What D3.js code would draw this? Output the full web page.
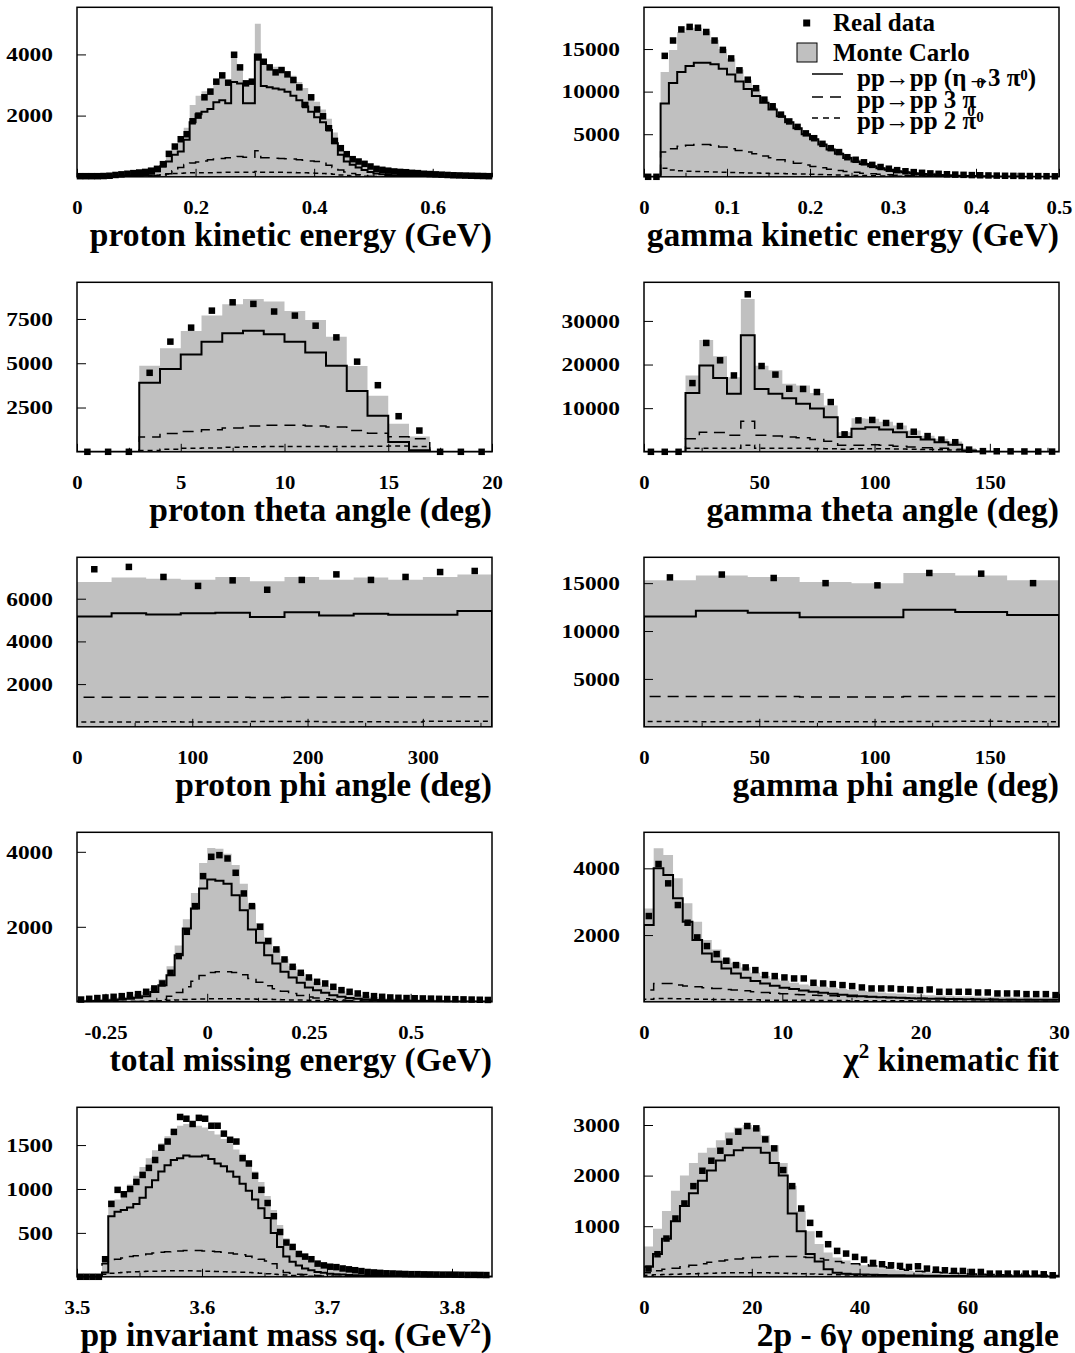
<!DOCTYPE html>
<html><head><meta charset="utf-8">
<script src="https://cdn.jsdelivr.net/npm/d3@7"></script>
<style>
html,body{margin:0;padding:0;background:#fff;}
svg text{font-family:"Liberation Serif","Times New Roman",serif;font-weight:bold;fill:#000;}
.tick-label{font-size:18px;}
.title{font-size:33.5px;}
.leg{font-size:25px;}
.small0{font-size:15px;}
</style></head><body>
<svg id="chart" width="1075" height="1353"></svg>
<script>
// ---------------- DATA ----------------
// proton kinetic energy (bins of 0.01 GeV from 0)
const pKE_data=[20,20,20,20,25,35,60,80,100,120,140,160,200,260,413,750,989,1228,1391,1815,2000,2598,2783,3109,3315,3076,3989,3576,3054,3109,3900,3761,3576,3413,3489,3348,3163,2924,2348,2598,2200,1978,1587,1174,935,739,576,500,424,337,260,228,200,175,160,150,130,120,100,90,80,70,60,50,45,40,35,30,25,20];
const pKE_mc=[20,20,20,25,30,40,55,70,90,110,140,180,220,290,420,650,950,1150,1600,2350,2650,2800,2900,3150,3250,3100,4000,3650,3150,3150,5000,3700,3650,3600,3550,3450,3300,3100,2900,2700,2450,2200,1900,1450,1000,750,600,480,380,300,240,190,150,120,100,80,70,60,50,45,40,35,30,30,25,25,20,20,20,20];
const pKE_eta=[0,0,5,5,10,10,15,20,25,30,40,60,100,180,337,500,717,826,1207,1783,2043,2130,2217,2435,2500,2400,3100,3050,2400,2400,4000,2970,2930,2890,2850,2780,2650,2500,2300,2130,1950,1783,1530,1100,717,500,391,300,220,160,110,80,60,40,30,25,20,15,10,10,5,5,5,0,0,0,0,0,0,0];
const pKE_3pi=[0,0,0,0,0,5,5,10,10,15,20,25,30,40,50,100,200,300,400,450,480,520,560,580,600,620,650,660,640,640,850,620,620,610,600,590,580,560,540,520,500,440,380,300,220,160,110,70,40,20,10,5,5,0,0,0,0,0,0,0,0,0,0,0,0,0,0,0,0,0];
const pKE_2pi=[0,0,0,0,0,0,0,0,5,10,20,30,40,50,70,90,110,120,125,130,130,135,135,140,140,145,145,150,150,150,170,150,150,145,145,140,140,135,130,125,120,110,100,80,60,45,30,20,15,10,5,5,0,0,0,0,0,0,0,0,0,0,0,0,0,0,0,0,0,0];
const pKE_xticks=[0,0.2,0.4,0.6], pKE_yticks=[2000,4000];

// gamma kinetic energy (bins of 0.01 GeV from 0)
const gKE_data=[0,0,14200,16000,17300,17600,17500,17000,16000,14900,13900,12500,11400,10400,9060,8280,7300,6500,5860,5100,4530,3870,3360,2900,2300,2000,1700,1400,1150,950,780,650,550,470,400,350,300,260,230,200,180,160,140,120,110,100,90,80,70,60];
const gKE_mc=[0,0,12300,14900,17000,17500,17500,17100,16100,15000,13900,12600,11400,10300,9100,8200,7300,6500,5800,5100,4500,3900,3400,2900,2450,2050,1700,1400,1150,950,780,640,520,430,360,300,250,210,180,150,130,115,100,90,80,70,60,55,50,45];
const gKE_eta=[0,0,8600,11000,12300,13000,13400,13400,13200,12700,12000,11200,10300,9500,8700,7900,7100,6400,5700,5000,4400,3800,3200,2700,2200,1800,1500,1250,1000,820,660,530,420,340,270,210,170,130,100,80,60,50,40,30,25,20,15,10,10,5];
const gKE_3pi=[0,0,2900,3300,3600,3700,3800,3800,3700,3500,3300,3100,2900,2700,2450,2250,2000,1800,1600,1400,1200,1050,900,750,620,520,430,350,290,230,180,140,110,90,70,55,45,35,30,25,20,15,15,10,10,10,5,5,5,5];
const gKE_2pi=[0,0,1000,800,700,650,620,600,570,540,500,480,460,440,420,400,380,360,340,320,300,270,240,210,180,160,140,120,100,80,70,60,50,40,30,25,20,15,10,10,5,5,5,5,0,0,0,0,0,0];
const gKE_xticks=[0,0.1,0.2,0.3,0.4,0.5], gKE_yticks=[5000,10000,15000];

// proton theta (bins of 1 deg)
const pTh_data=[0,0,0,4460,6220,7010,7970,8440,8350,7920,7690,7120,6460,5090,3760,2010,1200,0,0,0];
const pTh_mc=[0,0,0,4860,5840,6820,7690,8330,8630,8480,7950,7440,6500,4840,3160,1590,860,0,0,0];
const pTh_eta=[0,0,0,3900,4670,5500,6220,6690,6840,6630,6220,5610,4860,3430,2030,560,85,0,0,0];
const pTh_3pi=[0,0,0,840,1030,1150,1250,1350,1450,1500,1500,1450,1400,1200,1050,850,730,0,0,0];
const pTh_2pi=[0,0,0,80,150,200,220,250,280,300,300,300,300,300,320,330,300,0,0,0];
const pTh_xticks=[0,5,10,15,20], pTh_yticks=[2500,5000,7500];

// gamma theta (bins of 6 deg)
const gTh_data=[0,0,0,15750,24950,20970,17500,36100,19660,17700,14450,14400,13700,11400,4000,7200,7300,6600,5900,4600,3600,2800,2200,500,150,120,100,80,60,50];
const gTh_mc=[0,0,0,17500,25600,21900,17100,35000,19700,18700,15600,15200,13500,10600,4500,7700,7600,6900,6000,4900,3700,3000,2350,800,150,100,80,60,50,40];
const gTh_eta=[0,0,0,13500,19800,16900,13300,26700,14400,13300,12300,11000,9900,7900,3400,5300,5600,5100,4500,3400,2800,2200,1600,300,50,20,10,5,0,0];
const gTh_3pi=[0,0,0,3000,4500,4400,3800,7000,3800,3600,3400,3200,2800,2400,1500,1500,1600,1500,1300,1100,900,800,600,200,50,20,10,0,0,0];
const gTh_2pi=[0,0,0,800,800,800,800,1500,800,800,800,800,750,700,600,700,700,700,650,600,500,450,400,150,50,20,0,0,0,0];
const gTh_xticks=[0,50,100,150], gTh_yticks=[10000,20000,30000];

// proton phi (bins of 30 deg)
const pPhi_data=[7380,7490,7020,6600,6860,6420,6880,7140,6880,7020,7250,7300];
const pPhi_mc=[6780,6990,6940,6890,7020,6820,7020,6890,6990,6890,7020,7140];
const pPhi_eta=[5170,5320,5260,5320,5340,5140,5370,5210,5290,5250,5250,5420];
const pPhi_3pi=[1380,1380,1390,1380,1380,1370,1390,1380,1380,1390,1400,1410];
const pPhi_2pi=[220,230,240,230,220,250,250,230,240,220,260,260];
const pPhi_xticks=[0,100,200,300], pPhi_yticks=[2000,4000,6000];

// gamma phi (bins of 22.5 deg)
const gPhi_data=[15600,15900,15540,15000,14770,16060,15990,15000];
const gPhi_mc=[15300,15800,15640,15120,15000,16060,15800,15300];
const gPhi_eta=[11530,12130,11900,11430,11430,12230,11990,11670];
const gPhi_3pi=[3170,3170,3170,3100,3100,3170,3170,3170];
const gPhi_2pi=[560,540,560,540,520,560,580,540];
const gPhi_xticks=[0,50,100,150], gPhi_yticks=[5000,10000,15000];

// total missing energy (bins of 0.02 GeV from -0.32)
const missE_data=[60,80,100,115,133,151,178,204,267,356,489,773,1218,1867,2551,3351,3867,3911,3822,3440,2889,2551,2000,1618,1396,1129,933,773,649,533,489,400,311,267,222,178,151,133,116,107,100,95,90,85,80,75,70,65,60,55,50];
const missE_mc=[50,60,70,90,110,130,160,200,260,380,600,950,1500,2200,2900,3700,4100,4080,3950,3650,3150,2600,2100,1720,1420,1150,950,780,640,520,420,340,280,230,190,160,130,110,95,85,75,70,65,60,55,50,45,40,40,35,30];
const missE_eta=[10,15,20,30,40,60,80,110,150,260,444,711,1244,1956,2489,3022,3262,3230,3150,2844,2444,1929,1573,1244,1022,800,649,507,382,311,240,178,133,100,80,60,50,40,35,30,25,20,20,15,15,10,10,10,5,5,5];
const missE_3pi=[0,0,0,0,0,5,5,10,10,20,60,150,250,400,550,700,780,800,800,780,720,620,520,430,350,280,220,170,130,100,80,60,45,35,25,20,15,10,10,5,5,5,5,0,0,0,0,0,0,0,0];
const missE_2pi=[0,0,0,0,5,5,10,10,15,20,30,40,50,60,70,75,80,80,80,80,75,75,70,65,60,55,50,45,40,35,30,25,20,15,10,10,5,5,5,0,0,0,0,0,0,0,0,0,0,0,0];
const missE_xticks=[-0.25,0,0.25,0.5], missE_yticks=[2000,4000];

// chi2 kinematic fit (bins of 0.7)
const chi2_data=[2570,4130,3550,2900,2370,1930,1670,1430,1230,1100,1030,950,800,770,730,700,700,570,550,530,500,470,430,400,400,400,380,370,350,370,300,300,300,300,280,280,250,250,250,230,230,230,200];
const chi2_mc=[2800,4600,4400,3700,2950,2400,1850,1570,1300,1170,1030,870,770,700,630,570,520,480,450,420,380,350,320,300,280,260,240,230,210,200,190,180,170,165,160,155,150,145,140,135,130,130,130];
const chi2_eta=[2300,4000,3800,3100,2400,1850,1450,1200,1000,850,720,620,550,480,420,380,340,300,270,240,210,190,170,150,140,130,120,110,100,95,90,85,80,75,70,70,65,65,60,60,60,60,60];
const chi2_3pi=[350,550,550,500,470,450,420,400,370,350,330,300,280,260,240,220,210,200,190,180,170,160,150,150,140,130,120,120,110,110,100,100,90,90,80,80,80,70,70,70,60,60,60];
const chi2_2pi=[80,100,100,90,90,80,80,70,70,60,60,60,50,50,50,50,45,45,40,40,40,35,35,35,30,30,30,30,25,25,25,25,20,20,20,20,20,20,20,20,20,20,20];
const chi2_xticks=[0,10,20,30], chi2_yticks=[2000,4000];

// pp invariant mass squared (bins of 0.005 GeV^2 from 3.5)
const ppM_data=[0,0,0,0,200,830,990,940,1000,1080,1160,1240,1330,1470,1540,1650,1820,1800,1740,1810,1800,1720,1720,1630,1560,1540,1350,1290,1150,990,840,690,510,390,340,260,230,200,150,130,115,110,95,85,75,65,55,50,45,40,38,35,32,30,30,28,27,26,25,25,24,23,22,22,21,20,20];
const ppM_mc=[0,0,0,0,180,870,880,950,1050,1150,1250,1350,1440,1520,1600,1660,1720,1740,1730,1720,1700,1660,1620,1570,1520,1450,1400,1320,1200,1080,920,760,590,440,340,270,220,185,160,140,120,105,95,85,75,65,60,55,50,45,40,38,35,33,31,30,29,28,27,26,25,24,23,22,21,20,20];
const ppM_eta=[0,0,0,0,50,690,740,760,790,830,900,1020,1100,1200,1270,1330,1350,1380,1370,1370,1380,1340,1290,1260,1200,1140,1060,980,880,780,670,500,340,230,170,130,95,75,55,45,36,30,25,20,18,15,12,10,8,7,6,5,5,4,4,3,3,2,2,2,1,1,1,0,0,0,0];
const ppM_3pi=[0,0,0,0,150,170,200,215,230,240,250,260,270,280,285,290,295,300,300,300,295,290,285,280,270,260,250,235,220,200,180,150,80,50,40,30,25,20,15,10,10,5,5,5,0,0,0,0,0,0,0,0,0,0,0,0,0,0,0,0,0,0,0,0,0,0,0];
const ppM_2pi=[0,0,0,0,30,40,45,50,55,58,60,62,64,66,68,70,70,70,68,66,64,62,60,58,56,54,52,50,45,40,35,30,25,20,15,10,8,6,5,4,3,2,1,0,0,0,0,0,0,0,0,0,0,0,0,0,0,0,0,0,0,0,0,0,0,0,0];
const ppM_xticks=[3.5,3.6,3.7,3.8], ppM_yticks=[500,1000,1500];

// 2p - 6gamma opening angle (bins of 5/3 deg)
const open_data=[162,446,756,1152,1449,1792,2096,2294,2492,2670,2868,2980,2934,2716,2538,2109,1792,1350,1066,842,644,512,459,393,340,274,248,228,215,195,208,162,142,129,116,116,96,96,63,63,63,63,63,63,50,30,30];
const open_mc=[600,950,1300,1700,2000,2250,2450,2550,2700,2850,2950,3000,2950,2800,2600,2250,1800,1300,900,650,480,380,320,270,230,200,170,150,130,115,100,90,80,70,60,55,50,45,40,40,35,35,30,30,30,25,25];
const open_eta=[200,450,750,1100,1400,1650,1900,2100,2300,2400,2500,2550,2550,2450,2250,2000,1250,900,450,300,150,80,60,50,45,40,35,30,30,25,25,20,20,15,15,15,10,10,10,10,10,5,5,5,5,5,5];
const open_3pi=[80,120,150,170,200,230,260,290,310,330,350,370,380,390,400,400,400,390,380,360,330,300,280,260,240,215,200,175,150,130,110,100,90,80,70,60,55,50,45,40,35,35,30,30,30,25,25];
const open_2pi=[30,40,45,50,55,60,65,70,75,80,80,80,80,80,75,70,65,60,55,50,45,40,35,30,30,25,25,20,20,15,15,15,10,10,10,10,10,5,5,5,5,5,5,5,5,5,5];
const open_xticks=[0,20,40,60], open_yticks=[1000,2000,3000];

// ---------------- PANEL CONFIG ----------------
const panels=[
 {col:0,row:0,xDomain:[0,0.7],yMax:5540,x0:0,bw:0.01,data:pKE_data,mc:pKE_mc,eta:pKE_eta,pi3:pKE_3pi,pi2:pKE_2pi,xt:pKE_xticks,yt:pKE_yticks,title:[{t:"proton kinetic energy (GeV)"}]},
 {col:1,row:0,xDomain:[0,0.5],yMax:19900,x0:0,bw:0.01,data:gKE_data,mc:gKE_mc,eta:gKE_eta,pi3:gKE_3pi,pi2:gKE_2pi,xt:gKE_xticks,yt:gKE_yticks,title:[{t:"gamma kinetic energy (GeV)"}]},
 {col:0,row:1,xDomain:[0,20],yMax:9570,x0:0,bw:1,data:pTh_data,mc:pTh_mc,eta:pTh_eta,pi3:pTh_3pi,pi2:pTh_2pi,xt:pTh_xticks,yt:pTh_yticks,title:[{t:"proton theta angle (deg)"}]},
 {col:1,row:1,xDomain:[0,180],yMax:38850,x0:0,bw:6,data:gTh_data,mc:gTh_mc,eta:gTh_eta,pi3:gTh_3pi,pi2:gTh_2pi,xt:gTh_xticks,yt:gTh_yticks,title:[{t:"gamma theta angle (deg)"}]},
 {col:0,row:2,xDomain:[0,360],yMax:7940,x0:0,bw:30,data:pPhi_data,mc:pPhi_mc,eta:pPhi_eta,pi3:pPhi_3pi,pi2:pPhi_2pi,xt:pPhi_xticks,yt:pPhi_yticks,title:[{t:"proton phi angle (deg)"}]},
 {col:1,row:2,xDomain:[0,180],yMax:17700,x0:0,bw:22.5,data:gPhi_data,mc:gPhi_mc,eta:gPhi_eta,pi3:gPhi_3pi,pi2:gPhi_2pi,xt:gPhi_xticks,yt:gPhi_yticks,title:[{t:"gamma phi angle (deg)"}]},
 {col:0,row:3,xDomain:[-0.32,0.7],yMax:4520,x0:-0.32,bw:0.02,data:missE_data,mc:missE_mc,eta:missE_eta,pi3:missE_3pi,pi2:missE_2pi,xt:missE_xticks,yt:missE_yticks,title:[{t:"total missing energy (GeV)"}]},
 {col:1,row:3,xDomain:[0,30],yMax:5080,x0:0,bw:0.7,data:chi2_data,mc:chi2_mc,eta:chi2_eta,pi3:chi2_3pi,pi2:chi2_2pi,xt:chi2_xticks,yt:chi2_yticks,title:[{t:"χ"},{t:"2",sup:true},{t:" kinematic fit",down:true}]},
 {col:0,row:4,xDomain:[3.5,3.832],yMax:1930,x0:3.5,bw:0.005,data:ppM_data,mc:ppM_mc,eta:ppM_eta,pi3:ppM_3pi,pi2:ppM_2pi,xt:ppM_xticks,yt:ppM_yticks,title:[{t:"pp invariant mass sq. (GeV"},{t:"2",sup:true},{t:")",down:true}]},
 {col:1,row:4,xDomain:[0,77],yMax:3350,x0:0,bw:5/3,data:open_data,mc:open_mc,eta:open_eta,pi3:open_3pi,pi2:open_2pi,xt:open_xticks,yt:open_yticks,title:[{t:"2p - 6γ opening angle"}]}
];

// ---------------- DRAW ----------------
const svg=d3.select("#chart");
const defs=svg.append("defs");
const COLX=[77,644], W=415, H=169.5;
const rowTop=r=>7.3+275*r;
const GRAY="#c0c0c0";

panels.forEach((p,idx)=>{
  const L=COLX[p.col], T=rowTop(p.row), B=T+H, R=L+W;
  const x=d3.scaleLinear().domain(p.xDomain).range([L,R]);
  const y=d3.scaleLinear().domain([0,p.yMax]).range([B,T]);
  const cid="clip"+idx;
  defs.append("clipPath").attr("id",cid).append("rect").attr("x",L).attr("y",T).attr("width",W).attr("height",H);
  const g=svg.append("g");
  const body=g.append("g").attr("clip-path",`url(#${cid})`);
  const steps=vals=>{const a=[[p.x0,0]];vals.forEach((v,i)=>{a.push([p.x0+i*p.bw,v],[p.x0+(i+1)*p.bw,v]);});a.push([p.x0+vals.length*p.bw,0]);return a;};
  const area=d3.area().x(d=>x(d[0])).y0(y(0)).y1(d=>y(d[1]));
  const line=d3.line().x(d=>x(d[0])).y(d=>y(d[1]));
  body.append("path").attr("d",area(steps(p.mc))).attr("fill",GRAY);
  body.append("path").attr("d",line(steps(p.pi2))).attr("fill","none").attr("stroke","#000").attr("stroke-width",1.5).attr("stroke-dasharray","5,4");
  body.append("path").attr("d",line(steps(p.pi3))).attr("fill","none").attr("stroke","#000").attr("stroke-width",1.5).attr("stroke-dasharray","11,7");
  body.append("path").attr("d",line(steps(p.eta))).attr("fill","none").attr("stroke","#000").attr("stroke-width",2);
  // data markers
  const pts=p.data.map((v,i)=>({c:p.x0+(i+0.5)*p.bw,v})).filter(d=>d.c>=p.xDomain[0]&&d.c<=p.xDomain[1]);
  g.append("g").selectAll("rect").data(pts).join("rect")
    .attr("x",d=>x(d.c)-3.25).attr("y",d=>y(d.v)-3.25).attr("width",6.5).attr("height",6.5).attr("fill","#000");
  // frame
  g.append("rect").attr("x",L).attr("y",T).attr("width",W).attr("height",H).attr("fill","none").attr("stroke","#000").attr("stroke-width",1.5);
  // x axis ticks + labels
  const gx=g.append("g").attr("transform",`translate(0,${B})`)
    .call(d3.axisBottom(x).tickValues(p.xt).tickSize(-8).tickFormat(d=>String(d)));
  gx.select(".domain").remove();
  gx.selectAll("text").attr("class","tick-label").attr("y",37).attr("dy",null).attr("transform","scale(1.15,1)");
  const step=p.xt[1]-p.xt[0];
  const minor=d3.range(p.xt[0]-step/2,p.xDomain[1]+1e-9,step).filter(v=>v>=p.xDomain[0]-1e-9);
  const gxm=g.append("g").attr("transform",`translate(0,${B})`)
    .call(d3.axisBottom(x).tickValues(minor).tickSize(-4).tickFormat(""));
  gxm.select(".domain").remove();
  gxm.selectAll("text").remove();
  // y axis ticks + labels
  const gy=g.append("g").attr("transform",`translate(${L},0)`)
    .call(d3.axisLeft(y).tickValues(p.yt).tickSize(-9).tickFormat(d=>String(d)));
  gy.select(".domain").remove();
  gy.selectAll("text").attr("class","tick-label").attr("x",-24/1.3).attr("dy","0.35em").attr("transform","scale(1.3,1)");
  // title
  const t=g.append("text").attr("class","title").attr("x",R).attr("y",B+69).attr("text-anchor","end");
  p.title.forEach(s=>{
    const ts=t.append("tspan").text(s.t);
    if(s.sup) ts.attr("dy",-13).style("font-size","21px");
    if(s.down) ts.attr("dy",13);
  });
});

// ---------------- LEGEND (in gamma kinetic energy panel) ----------------
const leg=svg.append("g");
leg.append("rect").attr("x",803.2).attr("y",19.5).attr("width",7).attr("height",7).attr("fill","#000");
leg.append("text").attr("class","leg").attr("x",833).attr("y",31).text("Real data");
leg.append("rect").attr("x",797).attr("y",43).attr("width",20).attr("height",19).attr("fill",GRAY).attr("stroke","#000").attr("stroke-width",1);
leg.append("text").attr("class","leg").attr("x",833).attr("y",61).text("Monte Carlo");
leg.append("line").attr("x1",812).attr("x2",843).attr("y1",74).attr("y2",74).attr("stroke","#000").attr("stroke-width",1.5);
leg.append("line").attr("x1",812).attr("x2",843).attr("y1",97).attr("y2",97).attr("stroke","#000").attr("stroke-width",1.5).attr("stroke-dasharray","11,7");
leg.append("line").attr("x1",812).attr("x2",843).attr("y1",118).attr("y2",118).attr("stroke","#000").attr("stroke-width",1.5).attr("stroke-dasharray","6,5");
// line 1: pp->pp (eta->3 pi^0), with the stray "0" under the arrow kept as a tspan
const l1=leg.append("text").attr("class","leg").attr("x",857).attr("y",86);
l1.append("tspan").text("pp→pp (η→");
l1.append("tspan").attr("class","small0").attr("dx",-15).attr("dy",2).text("0");
l1.append("tspan").attr("dx",4).attr("dy",-2).text("3 π");
l1.append("tspan").attr("class","small0").attr("dy",-6).text("0");
l1.append("tspan").attr("dy",6).text(")");
// line 2: pp->pp 3 pi_0
const l2=leg.append("text").attr("class","leg").attr("x",857).attr("y",108);
l2.append("tspan").text("pp→pp 3 π");
l2.append("tspan").attr("class","small0").attr("dx",-9).attr("dy",8).text("0");
// line 3: pp->pp 2 pi^0
const l3=leg.append("text").attr("class","leg").attr("x",857).attr("y",129);
l3.append("tspan").text("pp→pp 2 π");
l3.append("tspan").attr("class","small0").attr("dy",-7).text("0");
</script>
</body></html>
